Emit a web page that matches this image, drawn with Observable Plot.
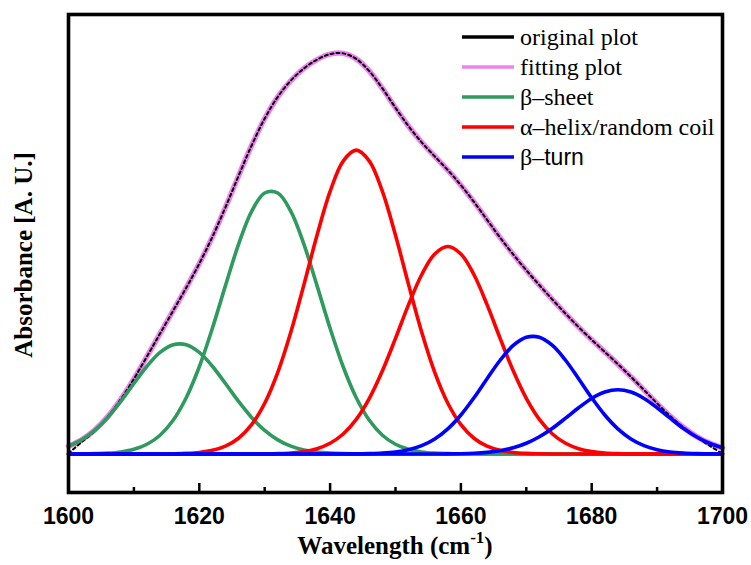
<!DOCTYPE html>
<html>
<head>
<meta charset="utf-8">
<script src="https://cdn.jsdelivr.net/npm/d3@7"></script>
<script src="https://cdn.jsdelivr.net/npm/@observablehq/plot@0.6"></script>
<style>
  html, body { margin: 0; padding: 0; background: #fff; }
  #chart { width: 751px; height: 565px; }
</style>
</head>
<body>
<div id="chart"></div>
<script>
// ---- data ----
const wavenumber = [1600,1602,1604,1606,1608,1610,1612,1614,1616,1618,1620,1622,1624,1626,1628,1630,1632,1634,1636,1638,1640,1642,1644,1646,1648,1650,1652,1654,1656,1658,1660,1662,1664,1666,1668,1670,1672,1674,1676,1678,1680,1682,1684,1686,1688,1690,1692,1694,1696,1698,1700];

const originalPlot = [0.002,0.030,0.058,0.0943,0.1380,0.1895,0.2460,0.3037,0.3612,0.4190,0.4801,0.5474,0.6220,0.7010,0.7778,0.8457,0.9004,0.9415,0.9721,0.9943,1.0081,1.0100,0.9960,0.9651,0.9216,0.8728,0.8263,0.7858,0.7503,0.7156,0.6777,0.6355,0.5904,0.5455,0.5031,0.4634,0.4257,0.3893,0.3539,0.3200,0.2881,0.2573,0.2266,0.1947,0.1613,0.1276,0.0956,0.0674,0.043,0.021,0.001];

const fittingPlot = [0.0199,0.0359,0.0603,0.0943,0.1380,0.1895,0.2460,0.3037,0.3612,0.4190,0.4801,0.5474,0.6220,0.7010,0.7778,0.8457,0.9004,0.9415,0.9721,0.9943,1.0081,1.0100,0.9960,0.9651,0.9216,0.8728,0.8263,0.7858,0.7503,0.7156,0.6777,0.6355,0.5904,0.5455,0.5031,0.4634,0.4257,0.3893,0.3539,0.3200,0.2881,0.2573,0.2266,0.1947,0.1613,0.1276,0.0956,0.0674,0.0445,0.0275,0.0157];

const betaSheet1 = [0.0198,0.0356,0.0594,0.0921,0.1327,0.1777,0.2213,0.2561,0.2755,0.2755,0.2561,0.2213,0.1777,0.1327,0.0921,0.0594,0.0356,0.0198,0.0103,0.0049,0.0022,0.0009,0.0004,0.0001,0,0,0,0,0,0,0,0,0,0,0,0,0,0,0,0,0,0,0,0,0,0,0,0,0,0,0];

const betaSheet2 = [0.0001,0.0003,0.0009,0.0022,0.0053,0.0118,0.0246,0.0474,0.0851,0.1419,0.2200,0.3169,0.4245,0.5285,0.6116,0.6580,0.6580,0.6116,0.5285,0.4245,0.3169,0.2200,0.1419,0.0851,0.0474,0.0246,0.0118,0.0053,0.0022,0.0009,0.0003,0.0001,0,0,0,0,0,0,0,0,0,0,0,0,0,0,0,0,0,0,0];

const alphaHelix1 = [0,0,0,0,0,0,0.0001,0.0002,0.0006,0.0016,0.0040,0.0092,0.0198,0.0398,0.0740,0.1279,0.2057,0.3074,0.4270,0.5514,0.6619,0.7385,0.7660,0.7385,0.6619,0.5514,0.4270,0.3074,0.2057,0.1279,0.0740,0.0398,0.0198,0.0092,0.0040,0.0016,0.0006,0.0002,0.0001,0,0,0,0,0,0,0,0,0,0,0,0];

const alphaHelix2 = [0,0,0,0,0,0,0,0,0,0,0,0,0,0,0.0001,0.0004,0.0011,0.0027,0.0063,0.0135,0.0271,0.0505,0.0873,0.1404,0.2099,0.2915,0.3765,0.4519,0.5042,0.5230,0.5042,0.4519,0.3765,0.2915,0.2099,0.1404,0.0873,0.0505,0.0271,0.0135,0.0063,0.0027,0.0011,0.0004,0.0001,0,0,0,0,0,0];

const betaTurn1 = [0,0,0,0,0,0,0,0,0,0,0,0,0,0,0,0,0,0,0,0,0,0.0001,0.0004,0.0010,0.0024,0.0053,0.0110,0.0212,0.0381,0.0635,0.0984,0.1418,0.1899,0.2364,0.2736,0.2943,0.2943,0.2736,0.2364,0.1899,0.1418,0.0984,0.0635,0.0381,0.0212,0.0110,0.0053,0.0024,0.0010,0.0004,0.0001];

const betaTurn2 = [0,0,0,0,0,0,0,0,0,0,0,0,0,0,0,0,0,0,0,0,0,0,0,0,0,0,0,0,0.0001,0.0003,0.0008,0.0019,0.0042,0.0084,0.0156,0.0271,0.0435,0.0650,0.0903,0.1166,0.1400,0.1562,0.1620,0.1562,0.1400,0.1166,0.0903,0.0650,0.0435,0.0271,0.0156];

const majorTicks = [1600, 1620, 1640, 1660, 1680, 1700];
const minorTicks = [1610, 1630, 1650, 1670, 1690];

const legendLabels = ["original plot", "fitting plot", "β–sheet", "α–helix/random coil", "β–turn"];
const legendColors = ["#000000", "#EE82EE", "#2E9A5E", "#FF0000", "#0000FF"];

const xLabel = "Wavelength (cm";
const xLabelSup = "-1";
const yLabel = "Absorbance [A. U.]";

// ---- build rows ----
const rows = (ys) => wavenumber.map((x, i) => ({x, y: ys[i]}));
const GREEN = legendColors[2], RED = legendColors[3], BLUE = legendColors[4];
const curve = "catmull-rom";

const W = 751, H = 565;
const mL = 68, mR = 29, mT = 14, mB = 73;
const innerH = H - mT - mB;
const LW = 3.6;

const plot = Plot.plot({
  width: W,
  height: H,
  marginLeft: mL,
  marginRight: mR,
  marginTop: mT,
  marginBottom: mB,
  style: {background: "white", overflow: "visible"},
  x: {domain: [1600, 1700]},
  y: {domain: [-0.097, 1.108], axis: null},
  marks: [
    Plot.line(rows(fittingPlot), {x: "x", y: "y", stroke: legendColors[1], strokeWidth: 5.5, curve}),
    Plot.line(rows(originalPlot), {x: "x", y: "y", stroke: "#000", strokeWidth: 2, strokeDasharray: "3,3", curve}),
    Plot.line(rows(betaSheet1), {x: "x", y: "y", stroke: GREEN, strokeWidth: LW, curve}),
    Plot.line(rows(betaSheet2), {x: "x", y: "y", stroke: GREEN, strokeWidth: LW, curve}),
    Plot.line(rows(alphaHelix1), {x: "x", y: "y", stroke: RED, strokeWidth: LW, curve}),
    Plot.line(rows(alphaHelix2), {x: "x", y: "y", stroke: RED, strokeWidth: LW, curve}),
    Plot.line(rows(betaTurn1), {x: "x", y: "y", stroke: BLUE, strokeWidth: LW, curve}),
    Plot.line(rows(betaTurn2), {x: "x", y: "y", stroke: BLUE, strokeWidth: LW, curve}),
    Plot.tickX(majorTicks, {x: d => d, stroke: "#000", strokeWidth: 2.5, insetTop: innerH - 9}),
    Plot.tickX(minorTicks, {x: d => d, stroke: "#000", strokeWidth: 2.5, insetTop: innerH - 5}),
    Plot.axisX(majorTicks, {
      tickSize: 0,
      tickPadding: 15,
      tickFormat: d => String(d),
      fontSize: 23,
      fontWeight: "bold",
      fontFamily: "Liberation Sans, Arial, sans-serif",
      fill: "#000",
      label: null
    }),
    Plot.frame({stroke: "#000", strokeWidth: 3.6})
  ]
});

document.getElementById("chart").appendChild(plot);

// ---- axis titles and legend ----
const svg = d3.select(plot);

const xt = svg.append("text")
  .attr("x", (mL + (W - mR)) / 2)
  .attr("y", 554)
  .attr("text-anchor", "middle")
  .attr("font-family", "Liberation Serif, Times New Roman, serif")
  .attr("font-weight", "bold")
  .attr("font-size", 25)
  .attr("fill", "#000");
xt.append("tspan").text(xLabel);
xt.append("tspan").attr("dy", -11).attr("font-size", 17).text(xLabelSup);
xt.append("tspan").attr("dy", 11).text(")");

svg.append("text")
  .attr("transform", `translate(32, ${(mT + (H - mB)) / 2 + 2}) rotate(-90)`)
  .attr("text-anchor", "middle")
  .attr("font-family", "Liberation Serif, Times New Roman, serif")
  .attr("font-weight", "bold")
  .attr("font-size", 25)
  .attr("fill", "#000")
  .text(yLabel);

const lg = svg.append("g").attr("text-anchor", "start");
legendLabels.forEach((label, i) => {
  const y = 37 + i * 30;
  lg.append("line")
    .attr("x1", 462).attr("x2", 514)
    .attr("y1", y).attr("y2", y)
    .attr("stroke", legendColors[i])
    .attr("stroke-width", 3.6);
  const t = lg.append("text")
    .attr("x", 520).attr("y", y + 8)
    .attr("text-anchor", "start")
    .attr("font-family", "Liberation Serif, Times New Roman, serif")
    .attr("font-size", 24)
    .attr("fill", "#000");
  if (label === "β–turn") {
    t.append("tspan").text("β–");
    t.append("tspan").attr("font-family", "Liberation Sans, Arial, sans-serif").attr("font-size", 23).text("turn");
  } else {
    t.text(label);
  }
});
</script>
</body>
</html>
